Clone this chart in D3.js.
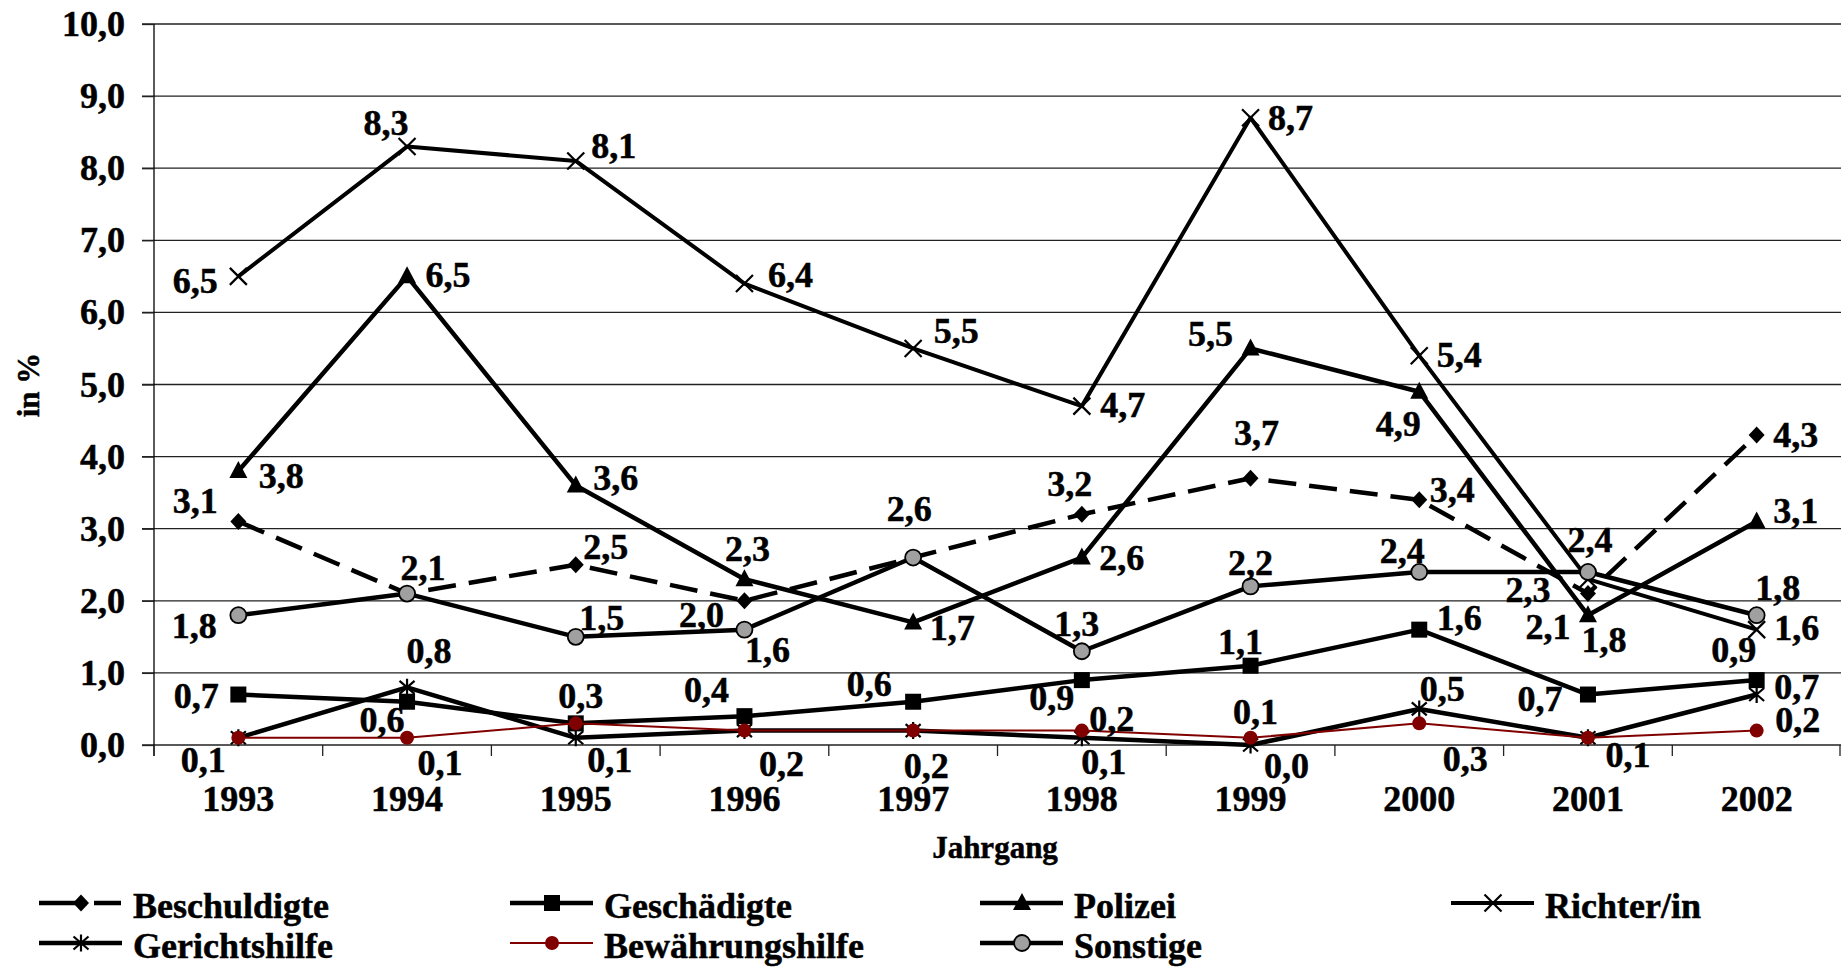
<!DOCTYPE html>
<html><head><meta charset="utf-8">
<script src="https://cdn.jsdelivr.net/npm/d3@7"></script>
<style>
body{margin:0;background:#fff}
svg{display:block}
text{font-family:"Liberation Serif","Times New Roman",serif;font-weight:bold;fill:#000;stroke:#000;stroke-width:0.5px}
</style>
</head><body>
<svg id="c" width="1841" height="976"></svg>
<script>
// ---- data ----
const years = ["1993","1994","1995","1996","1997","1998","1999","2000","2001","2002"];
const beschuldigte     = [3.1, 2.1, 2.5, 2.0, 2.6, 3.2, 3.7, 3.4, 2.1, 4.3];
const geschaedigte     = [0.7, 0.6, 0.3, 0.4, 0.6, 0.9, 1.1, 1.6, 0.7, 0.9];
const polizei          = [3.8, 6.5, 3.6, 2.3, 1.7, 2.6, 5.5, 4.9, 1.8, 3.1];
const richter          = [6.5, 8.3, 8.1, 6.4, 5.5, 4.7, 8.7, 5.4, 2.3, 1.6];
const gerichtshilfe    = [0.1, 0.8, 0.1, 0.2, 0.2, 0.1, 0.0, 0.5, 0.1, 0.7];
const bewaehrungshilfe = [0.1, 0.1, 0.3, 0.2, 0.2, 0.2, 0.1, 0.3, 0.1, 0.2];
const sonstige         = [1.8, 2.1, 1.5, 1.6, 2.6, 1.3, 2.2, 2.4, 2.4, 1.8];
const seriesNames = ["Beschuldigte","Geschädigte","Polizei","Richter/in","Gerichtshilfe","Bewährungshilfe","Sonstige"];
const yTicks = [0,1,2,3,4,5,6,7,8,9,10];
const yTitle = "in %";
const xTitle = "Jahrgang";

// ---- label placement (offsets from point: dx, dy to baseline); null = shared label drawn by other series ----
const labelOffsets = {
  "Beschuldigte":   [[-43,-8],[16,-14],[30,-6],[-43,26],[-4,-37],[-12,-18],[6,-33],[33,2],[-40,45],[39,12]],
  "Geschädigte":    [[-42,13],[-25,30],[5,-15],[-38,-14],[-44,-6],[-30,30],[-10,-12],[40,0],[-48,16],[-23,-18]],
  "Polizei":        [[43,17],[41,11],[40,5],[3,-18],[39,18],[40,12],[-40,-2],[-21,44],[16,37],[39,2]],
  "Richter/in":     [[-43,17],[-21,-12],[38,-3],[46,3],[43,-5],[41,11],[40,12],[40,11],[-60,23],[40,10]],
  "Gerichtshilfe":  [[-35,34],[22,-24],[34,34],[37,45],[13,47],[22,36],[36,33],[23,-8],[40,29],[40,4]],
  "Bewährungshilfe":[null,[33,37],null,null,null,[30,0],[5,-14],[46,48],null,[41,1]],
  "Sonstige":       [[-44,23],null,[26,-7],[23,32],null,[-5,-15],[0,-11],[-17,-9],[2,-20],[21,-15]]
};

const styles = {
  "Beschuldigte":   {color:"#000", width:4.5, dash:"28,13", marker:"diamond"},
  "Geschädigte":    {color:"#000", width:4.5, dash:null, marker:"square"},
  "Polizei":        {color:"#000", width:4.5, dash:null, marker:"triangle"},
  "Richter/in":     {color:"#000", width:4,   dash:null, marker:"x"},
  "Gerichtshilfe":  {color:"#000", width:4.5, dash:null, marker:"asterisk"},
  "Bewährungshilfe":{color:"#800000", width:2, dash:null, marker:"redcircle"},
  "Sonstige":       {color:"#000", width:4.5, dash:null, marker:"graycircle"}
};

const valuesByName = {
  "Beschuldigte": beschuldigte, "Geschädigte": geschaedigte, "Polizei": polizei,
  "Richter/in": richter, "Gerichtshilfe": gerichtshilfe,
  "Bewährungshilfe": bewaehrungshilfe, "Sonstige": sonstige
};

// ---- layout ----
const svg = d3.select("#c");
const L = 154, R = 1841, T = 24, B = 745;
const x = d3.scaleBand().domain(years).range([L, R]).padding(0);
const y = d3.scaleLinear().domain([0, 10]).range([B, T]);
const cx = d => x(d) + x.bandwidth() / 2;

// gridlines
svg.append("g").selectAll("line").data(yTicks).join("line")
  .attr("x1", L - 12).attr("x2", R).attr("y1", d => y(d)).attr("y2", d => y(d))
  .attr("stroke", "#222").attr("stroke-width", 1.3);

// y axis
const yAxis = d3.axisLeft(y).tickValues(yTicks).tickSize(12).tickPadding(17)
  .tickFormat(d => d3.format(".1f")(d).replace(".", ","));
const gy = svg.append("g").attr("transform", `translate(${L},0)`).call(yAxis);
gy.select(".domain").attr("d", `M0,${T}V${B + 11}`).attr("stroke", "#000").attr("stroke-width", 1.3);
gy.selectAll(".tick line").attr("stroke", "#222").attr("stroke-width", 1.3);
gy.selectAll(".tick text").attr("font-size", 36).attr("font-family", "'Liberation Serif',serif")
  .attr("font-weight", "bold").attr("fill", "#000");

// x axis ticks at band boundaries
const boundaries = years.map(d => x(d)).concat([R - 1]);
svg.append("g").selectAll("line").data(boundaries).join("line")
  .attr("x1", d => d).attr("x2", d => d).attr("y1", B).attr("y2", B + 11)
  .attr("stroke", "#222").attr("stroke-width", 1.3);
svg.append("g").selectAll("text").data(years).join("text")
  .attr("x", d => cx(d)).attr("y", 811).attr("text-anchor", "middle")
  .attr("font-size", 36).text(d => d);

// axis titles
svg.append("text").attr("x", 995).attr("y", 858).attr("text-anchor", "middle")
  .attr("font-size", 31).text(xTitle);
svg.append("text").attr("transform", "translate(39,385) rotate(-90)")
  .attr("text-anchor", "middle").attr("font-size", 31).text(yTitle);

// markers
function drawMarker(g, type, px, py) {
  switch (type) {
    case "diamond":
      g.append("path").attr("d", `M${px},${py-8.5}L${px+8},${py}L${px},${py+8.5}L${px-8},${py}Z`).attr("fill", "#000");
      break;
    case "square":
      g.append("rect").attr("x", px-8).attr("y", py-8).attr("width", 16).attr("height", 16).attr("fill", "#000");
      break;
    case "triangle":
      g.append("path").attr("d", `M${px},${py-10}L${px+9},${py+7}L${px-9},${py+7}Z`).attr("fill", "#000");
      break;
    case "x":
      g.append("path").attr("d", `M${px-8.5},${py-8.5}L${px+8.5},${py+8.5}M${px-8.5},${py+8.5}L${px+8.5},${py-8.5}`)
        .attr("stroke", "#000").attr("stroke-width", 2.2).attr("fill", "none");
      break;
    case "asterisk":
      g.append("path").attr("d", `M${px},${py-8.5}L${px},${py+8.5}M${px-7.5},${py-6.5}L${px+7.5},${py+6.5}M${px-7.5},${py+6.5}L${px+7.5},${py-6.5}`)
        .attr("stroke", "#000").attr("stroke-width", 2.2).attr("fill", "none");
      break;
    case "redcircle":
      g.append("circle").attr("cx", px).attr("cy", py).attr("r", 7).attr("fill", "#800000");
      break;
    case "graycircle":
      g.append("circle").attr("cx", px).attr("cy", py).attr("r", 8).attr("fill", "#a0a0a0")
        .attr("stroke", "#000").attr("stroke-width", 1.8);
      break;
  }
}

// series
const lineGen = d3.line().x((v, i) => cx(years[i])).y(v => y(v));
seriesNames.forEach(name => {
  const vals = valuesByName[name], st = styles[name];
  const g = svg.append("g");
  g.append("path").attr("d", lineGen(vals)).attr("fill", "none")
    .attr("stroke", st.color).attr("stroke-width", st.width)
    .attr("stroke-linejoin", "round")
    .attr("stroke-dasharray", st.dash);
  vals.forEach((v, i) => drawMarker(g, st.marker, cx(years[i]), y(v)));
});

// data labels
const fmt = v => d3.format(".1f")(v).replace(".", ",");
seriesNames.forEach(name => {
  const vals = valuesByName[name], offs = labelOffsets[name];
  vals.forEach((v, i) => {
    const o = offs[i];
    if (!o) return;
    svg.append("text").attr("x", cx(years[i]) + o[0]).attr("y", y(v) + o[1])
      .attr("text-anchor", "middle").attr("font-size", 36).text(fmt(v));
  });
});

// legend
const legendCols = [39, 510, 980, 1451];
const legendRows = [903, 943];
seriesNames.forEach((name, k) => {
  const col = k % 4, row = Math.floor(k / 4);
  const lx = legendCols[col], ly = legendRows[row], st = styles[name];
  const g = svg.append("g");
  g.append("line").attr("x1", lx).attr("x2", lx + 83).attr("y1", ly).attr("y2", ly)
    .attr("stroke", st.color).attr("stroke-width", st.width)
    .attr("stroke-dasharray", st.dash ? "48,7,27" : null);
  drawMarker(g, st.marker, lx + 42, ly);
  g.append("text").attr("x", lx + 94).attr("y", ly + 15).attr("font-size", 36).text(name);
});
</script>
</body></html>
